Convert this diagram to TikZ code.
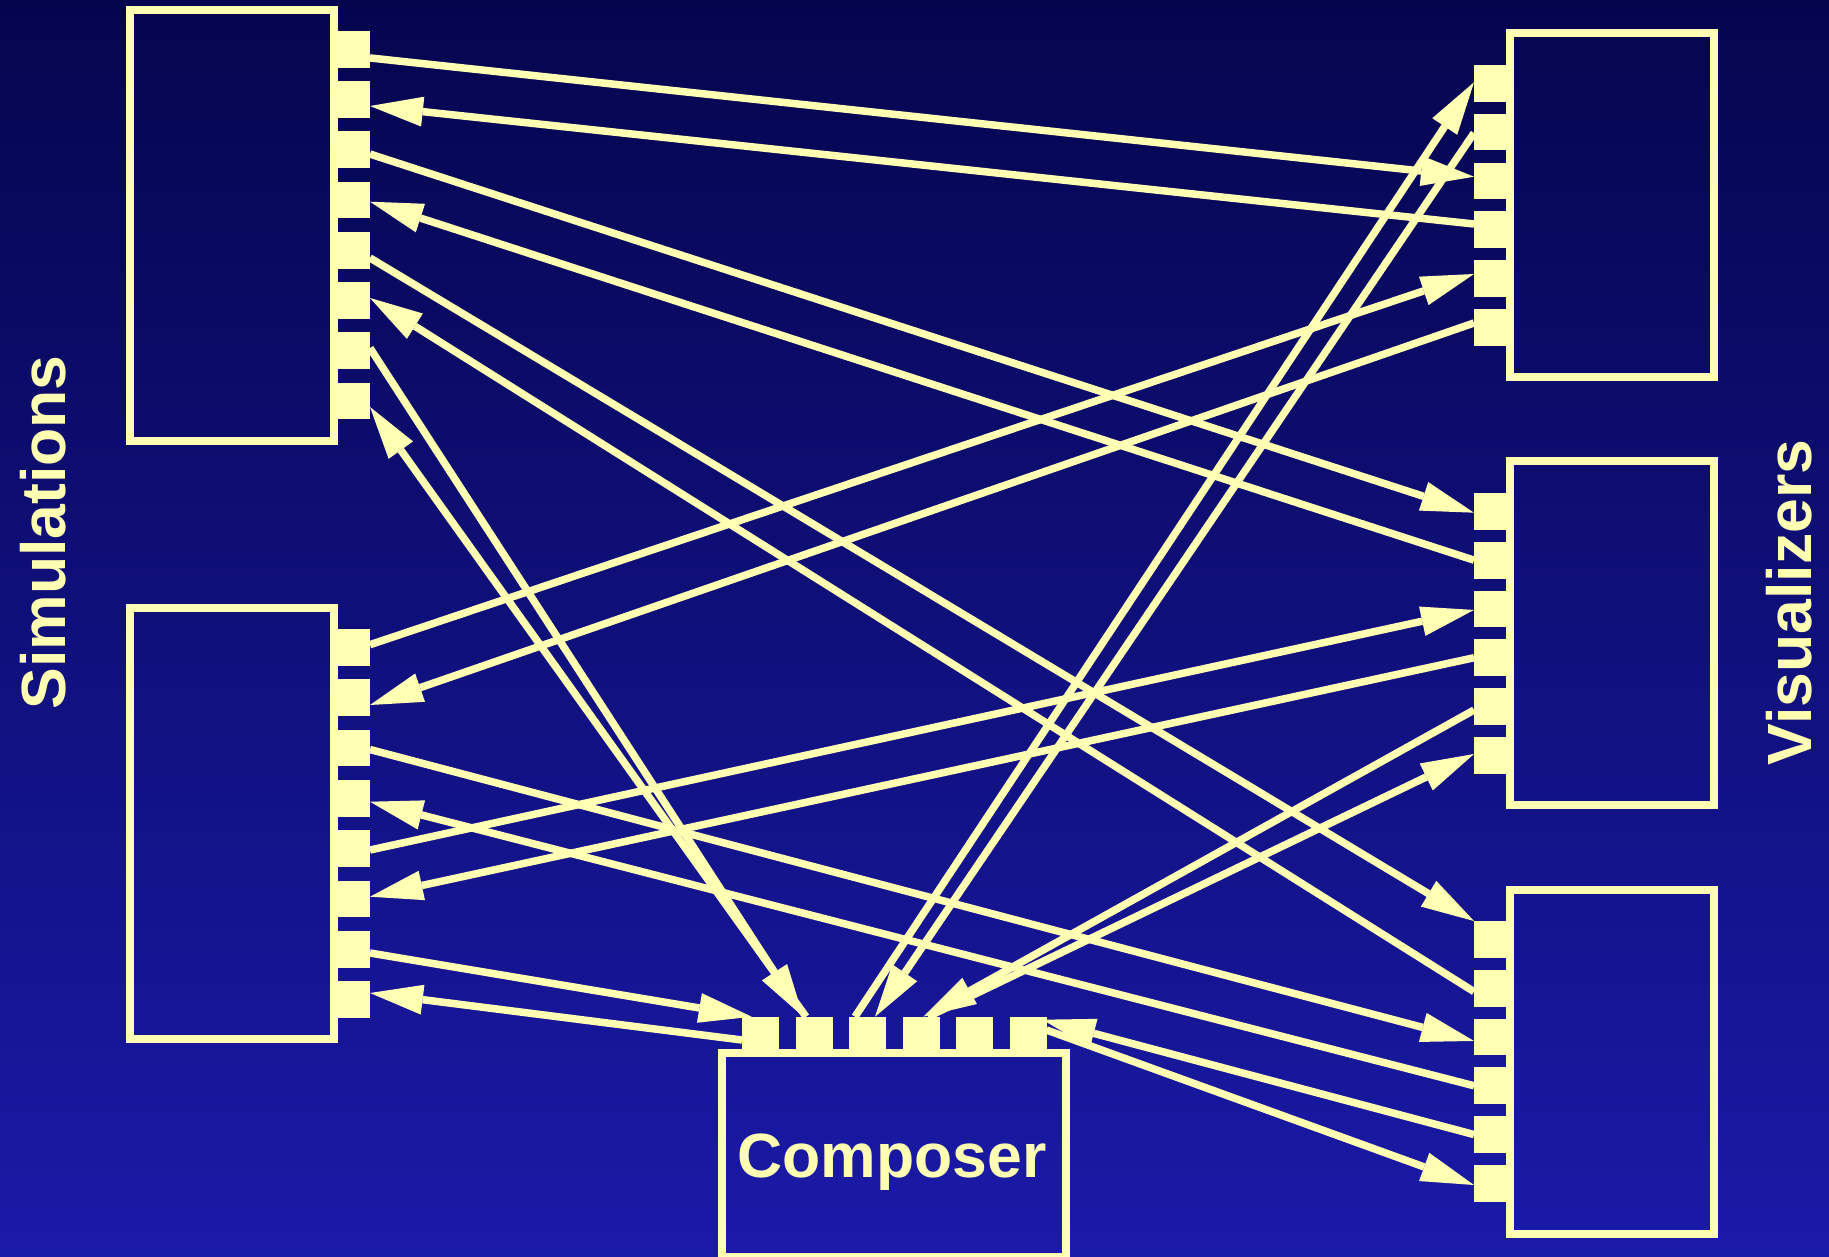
\documentclass[tikz,border=0pt]{standalone}
\usepackage{fontspec}
\setmainfont{Liberation Sans}
\usetikzlibrary{arrows.meta}
\definecolor{bgtop}{RGB}{5,5,78}
\definecolor{bgbot}{RGB}{26,26,168}
\definecolor{pale}{RGB}{255,255,180}
\begin{document}
\begin{tikzpicture}[x=1pt,y=-1pt,
  box/.style={draw=pale, line width=8pt, rectangle, inner sep=0pt, outer sep=0pt},
  port/.style={fill=pale, rectangle, inner sep=0pt, outer sep=0pt, draw=none},
  sport/.style={port, minimum width=32.3pt, minimum height=36.7pt},
  vport/.style={port, minimum width=32pt, minimum height=36.7pt},
  cport/.style={port, minimum width=37pt, minimum height=32.6pt},
  conn/.style={draw=pale, line width=7.5pt, -{Triangle[length=53pt,width=30pt,line width=0pt]}},
  lbl/.style={text=pale, font=\fontsize{62.5}{75}\selectfont\bfseries, inner sep=0pt}
]
\useasboundingbox (0,0) rectangle (1829,1257);
\clip (0,0) rectangle (1829,1257);
\shade[top color=bgtop, bottom color=bgbot] (0,0) rectangle (1829,1257);

% boxes
\node[box, minimum width=203.7pt, minimum height=431.3pt] (sim1) at (231.85,225.35) {};
\node[box, minimum width=203.7pt, minimum height=431.6pt] (sim2) at (231.85,823.5) {};
\node[box, minimum width=204pt, minimum height=344pt] (vis1) at (1612,205.3) {};
\node[box, minimum width=204pt, minimum height=344pt] (vis2) at (1612,633.3) {};
\node[box, minimum width=204pt, minimum height=344pt] (vis3) at (1612,1061.5) {};
\node[box, minimum width=344.3pt, minimum height=203.7pt] (comp) at (893.85,1155.15) {};

% ports
\foreach \i in {0,...,7} {
  \node[sport] (s1p\i) at (353.85, {49.35+50.25*\i}) {};
  \node[sport] (s2p\i) at (353.85, {647.35+50.3*\i}) {};
}
\foreach \i in {0,...,5} {
  \node[vport] (v1p\i) at (1490, {83.35+48.8*\i}) {};
  \node[vport] (v2p\i) at (1490, {511.35+48.8*\i}) {};
  \node[vport] (v3p\i) at (1490, {939.35+48.8*\i}) {};
  \node[cport] (c\i) at ({760.5+53.5*\i}, 1033) {};
}

% labels
\node[lbl, rotate=90, anchor=base] (simlbl) at (65.5,532.5) {Simulations};
\node[lbl, rotate=90, anchor=base] (vislbl) at (1811,602.5) {Visualizers};
\node[lbl, anchor=base] (complbl) at (892,1177) {Composer};

% Sim1 <-> Visualizers
\draw[conn] ([yshift=-8.6pt]s1p0.east) -- ([yshift=4.25pt]v1p2.west);
\draw[conn] ([yshift=5.75pt]v1p3.west) -- ([yshift=-6.4pt]s1p1.east);
\draw[conn] ([yshift=-4.2pt]s1p2.east) -- ([yshift=-1.35pt]v2p0.west);
\draw[conn] (v2p1.west) -- ([yshift=-1.6pt]s1p3.east);
\draw[conn] ([yshift=-7.6pt]s1p4.east) -- (v3p0.north west);
\draw[conn] ([yshift=-3.5pt]v3p1.west) -- ([yshift=2.6pt]s1p5.east);
% Sim1 <-> Composer
\draw[conn] ([yshift=2.8pt]s1p6.east) -- ([xshift=-10.7pt]c1.north);
\draw[conn] ([xshift=-8pt]c1.north) -- ([yshift=-5.9pt]s1p7.east);
% Sim2 <-> Visualizers
\draw[conn] ([yshift=2.65pt]s2p0.east) -- ([yshift=4.55pt]v1p4.west);
\draw[conn] ([yshift=4.35pt]v1p5.west) -- ([yshift=-7.35pt]s2p1.east);
\draw[conn] ([yshift=-1.55pt]s2p2.east) -- ([yshift=-4pt]v3p2.west);
\draw[conn] (v3p3.west) -- ([yshift=-3.45pt]s2p3.east);
\draw[conn] ([yshift=-1.45pt]s2p4.east) -- ([yshift=-1pt]v2p2.west);
\draw[conn] (v2p3.west) -- ([yshift=2.15pt]s2p5.east);
% Sim2 <-> Composer
\draw[conn] ([yshift=-3.85pt]s2p6.east) -- ([xshift=-8.8pt]c0.north);
\draw[conn] ([yshift=-7pt]c0.west) -- ([yshift=6.45pt]s2p7.east);
% Composer <-> Visualizers
\draw[conn] ([xshift=-12.5pt]c2.north) -- ([yshift=1.05pt]v1p0.west);
\draw[conn] ([yshift=-0.85pt]v1p1.west) -- ([xshift=7.5pt]c2.north);
\draw[conn] ([yshift=-3.5pt]v2p4.west) -- ([xshift=2.3pt]c3.north);
\draw[conn] ([xshift=7pt]c3.north) -- ([yshift=1.35pt]v2p5.west);
\draw[conn] (v3p4.west) -- ([xshift=-4pt,yshift=-3pt]c5.north east);
\draw[conn] ([yshift=3pt]c5.east) -- ([yshift=-1.65pt]v3p5.west);
\end{tikzpicture}
\end{document}
